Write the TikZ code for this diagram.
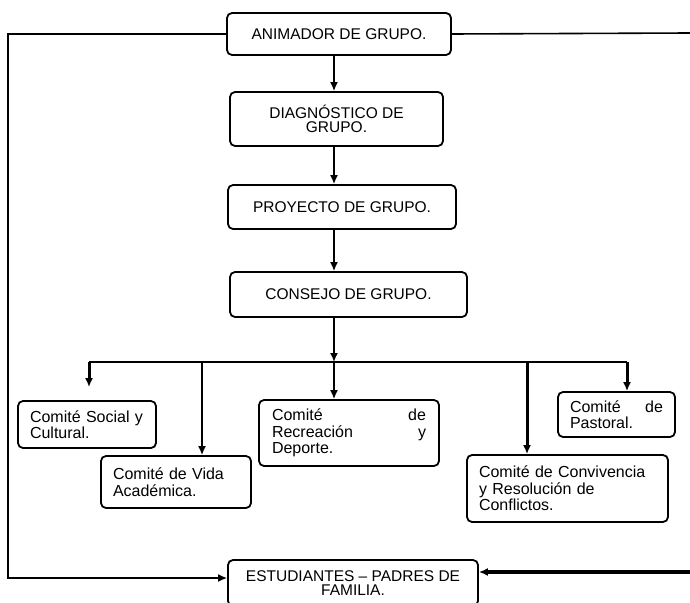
\documentclass[tikz,border=0pt]{standalone}
\usepackage{fontspec}
\setmainfont{Liberation Sans}
\usetikzlibrary{arrows.meta}

\begin{document}
\begin{tikzpicture}
  [x=1pt,y=-1pt,line width=1.6pt,
   every node/.style={draw,line width=1.8pt,rounded corners=5pt,inner xsep=12pt,inner ysep=0pt},
   caja/.style={font=\fontsize{15.5}{14.5}\selectfont,align=center},
   comite/.style={font=\fontsize{16}{16.5}\selectfont,align=left},
   flecha/.style={-{Latex[length=9pt,width=8pt]}},
   gruesa/.style={flecha,line width=3pt}]
  \clip (0,0) rectangle (690,602);

  % cadena central
  \node[caja,minimum width=224pt,minimum height=42pt] (anim) at (339,34)    {ANIMADOR DE GRUPO.};
  \node[caja,minimum width=213pt,minimum height=54pt] (diag) at (336.5,119) {DIAGNÓSTICO DE\\GRUPO.};
  \node[caja,minimum width=228pt,minimum height=44pt] (proy) at (342,207)   {PROYECTO DE GRUPO.};
  \node[caja,minimum width=237pt,minimum height=45pt] (cons) at (348.5,294.5) {CONSEJO DE GRUPO.};
  \node[caja,minimum width=250pt,minimum height=46pt] (est)  at (353,583)   {ESTUDIANTES – PADRES DE\\FAMILIA.};

  % comites
  \node[comite,text width=114pt,minimum height=47pt] (soc)  at (87,424.5)   {Comité Social y\\Cultural.};
  \node[comite,text width=126pt,minimum height=52pt] (vida) at (176,482)    {Comité de Vida\\Académica.};
  \node[comite,text width=154pt,minimum height=66pt,inner xsep=13pt] (recr) at (349,433) {Comité\hfill de\\Recreación\hfill y\\Deporte.};
  \node[comite,text width=93pt,minimum height=45pt]  (past) at (616.5,414.5) {Comité\hfill de\\Pastoral.};
  \node[comite,text width=177pt,minimum height=67pt] (conv) at (567.5,488.5) {Comité de Convivencia\\y Resolución de\\Conflictos.};

  \coordinate (eje) at (334,0);
  \coordinate (bar) at (334,362);
  \coordinate (bsoc) at (89,362);
  \coordinate (bvida) at (202,362);
  \coordinate (bconv) at (527,362);
  \coordinate (bpast) at (627,362);
  \coordinate (izq) at (8,578);
  \coordinate (dersup) at (690,33);
  \coordinate (derinf) at (690,572);

  \foreach \from/\to in {anim/diag,diag/proy,proy/cons}
    \draw[flecha] (\from.south -| eje) -- (\to.north -| eje);
  \draw[flecha] (cons.south -| eje) -- (bar);
  \draw (bsoc) -- (bpast);

  \draw[gruesa,shorten >=13pt] (bsoc) -- (bsoc |- soc.north);
  \draw[flecha] (bvida) -- (bvida |- vida.north);
  \draw[flecha] (bar) -- (bar |- recr.north);
  \draw[gruesa] (bconv) -- (bconv |- conv.north);
  \draw[gruesa] (bpast) -- (bpast |- past.north);

  % lazo exterior
  \draw[flecha] (anim.west) -| (izq) -- (izq -| est.west);
  \draw (anim.east) -- (dersup);
  \draw[gruesa,line width=3.5pt] (derinf) -- (derinf -| est.east);
\end{tikzpicture}
\end{document}
